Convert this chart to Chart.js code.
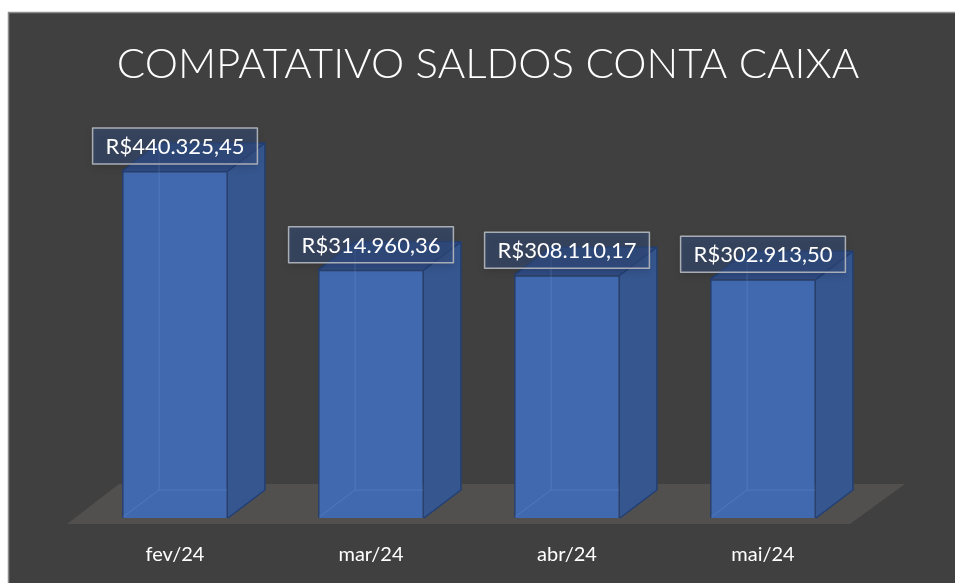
<!DOCTYPE html>
<html>
<head>
<meta charset="utf-8">
<script src="https://cdn.jsdelivr.net/npm/chart.js@4.4.1/dist/chart.umd.min.js"></script>
<style>
  html, body { margin: 0; padding: 0; background: #ffffff; }
  #wrap { width: 955px; height: 583px; }
</style>
</head>
<body>
<div id="wrap"><canvas id="saldoChart"></canvas></div>
<script>
// dados
const titulo = 'COMPATATIVO SALDOS CONTA CAIXA';
const meses = ['fev/24', 'mar/24', 'abr/24', 'mai/24'];
const saldos = [440325.45, 314960.36, 308110.17, 302913.50];
const rotulos = ['R$440.325,45', 'R$314.960,36', 'R$308.110,17', 'R$302.913,50'];

const depthX = 37;   // profundidade 3D
const depthY = 28;

// fundo do painel + titulo
const panelBg = {
    id: 'panelBg',
    beforeDraw(chart) {
        const ctx = chart.ctx;
        ctx.save();
        ctx.fillStyle = '#ffffff';
        ctx.fillRect(0, 0, chart.width, chart.height);
        ctx.fillStyle = '#404040';
        ctx.fillRect(8, 12, chart.width - 8, chart.height - 12);
        ctx.strokeStyle = '#8c8c8c';
        ctx.lineWidth = 1.5;
        ctx.beginPath();
        ctx.moveTo(8.5, chart.height);
        ctx.lineTo(8.5, 12.5);
        ctx.lineTo(chart.width, 12.5);
        ctx.stroke();
        // titulo
        ctx.fillStyle = '#ffffff';
        ctx.font = '300 42px Lato, "Open Sans", sans-serif';
        ctx.textAlign = 'center';
        ctx.textBaseline = 'alphabetic';
        ctx.fillText(titulo, 488, 78);
        ctx.restore();
    }
};

// piso + faces 3D + rotulos
const bars3d = {
    id: 'bars3d',
    beforeDatasetsDraw(chart) {
        const ctx = chart.ctx;
        const area = chart.chartArea;
        const yf = area.bottom + 6;
        ctx.save();
        ctx.fillStyle = '#524f4f';
        ctx.beginPath();
        ctx.moveTo(area.left - 10, yf);
        ctx.lineTo(area.right - 11, yf);
        ctx.lineTo(area.right + 44, yf - 40);
        ctx.lineTo(area.left + 42, yf - 40);
        ctx.closePath();
        ctx.fill();
        ctx.restore();
    },
    afterDatasetsDraw(chart) {
        const ctx = chart.ctx;
        const meta = chart.getDatasetMeta(0);
        ctx.save();
        meta.data.forEach(function(bar, i) {
            const w = bar.width;
            const l = bar.x - w / 2, r = bar.x + w / 2;
            const t = bar.y, b = bar.base;
            ctx.lineJoin = 'round';
            // lateral
            ctx.fillStyle = '#36568f';
            ctx.beginPath();
            ctx.moveTo(r, t);
            ctx.lineTo(r + depthX, t - depthY);
            ctx.lineTo(r + depthX, b - depthY);
            ctx.lineTo(r, b);
            ctx.closePath();
            ctx.fill();
            // topo
            ctx.fillStyle = '#2f4c83';
            ctx.beginPath();
            ctx.moveTo(l, t);
            ctx.lineTo(l + depthX, t - depthY);
            ctx.lineTo(r + depthX, t - depthY);
            ctx.lineTo(r, t);
            ctx.closePath();
            ctx.fill();
            // arestas
            ctx.strokeStyle = '#223f74';
            ctx.lineWidth = 1.5;
            ctx.beginPath();
            ctx.moveTo(l, t);
            ctx.lineTo(l + depthX, t - depthY);
            ctx.lineTo(r + depthX, t - depthY);
            ctx.lineTo(r + depthX, b - depthY);
            ctx.lineTo(r, b);
            ctx.moveTo(r + depthX, t - depthY);
            ctx.lineTo(r, t);
            ctx.stroke();
            // arestas de tras (transparencia)
            ctx.strokeStyle = 'rgba(110,150,215,0.35)';
            ctx.lineWidth = 1;
            ctx.beginPath();
            ctx.moveTo(l + depthX, t - depthY + 2);
            ctx.lineTo(l + depthX, b - depthY);
            ctx.lineTo(r - 1, b - depthY);
            ctx.moveTo(l + depthX, b - depthY);
            ctx.lineTo(l + 1, b - 1);
            ctx.stroke();
        });

        // rotulos
        ctx.font = '22px Lato, "Open Sans", sans-serif';
        ctx.textAlign = 'center';
        ctx.textBaseline = 'middle';
        meta.data.forEach(function(bar, i) {
            const txt = rotulos[i];
            const tw = ctx.measureText(txt).width;
            const bw = tw + 26, bh = 36;
            const cx = bar.x, cy = bar.y - 25;
            ctx.save();
            ctx.shadowColor = 'rgba(0,0,0,0.3)';
            ctx.shadowBlur = 8;
            ctx.shadowOffsetY = 3;
            ctx.fillStyle = 'rgba(52,78,128,0.5)';
            ctx.fillRect(cx - bw / 2, cy - bh / 2, bw, bh);
            ctx.restore();
            ctx.strokeStyle = '#a9adb5';
            ctx.lineWidth = 1.5;
            ctx.strokeRect(cx - bw / 2, cy - bh / 2, bw, bh);
            ctx.fillStyle = '#ffffff';
            ctx.fillText(txt, cx, cy + 1);
        });
        ctx.restore();
    }
};

const ctx = document.getElementById('saldoChart').getContext('2d');
new Chart(ctx, {
    type: 'bar',
    data: {
        labels: meses,
        datasets: [{
            data: saldos,
            backgroundColor: '#4169b0',
            borderColor: '#223f74',
            borderWidth: 1.5,
            categoryPercentage: 1,
            barPercentage: 0.54,
        }]
    },
    options: {
        responsive: true,
        maintainAspectRatio: false,
        animation: false,
        layout: {
            padding: { top: 124, left: 77, right: 94, bottom: 0 }
        },
        plugins: {
            legend: { display: false },
            tooltip: { enabled: false },
            title: { display: false }
        },
        scales: {
            x: {
                grid: { display: false, drawTicks: false },
                border: { display: false },
                afterFit(scale) { scale.height = 65; },
                ticks: {
                    color: '#ffffff',
                    padding: 25,
                    font: { family: 'Lato, "Open Sans", sans-serif', size: 20 }
                }
            },
            y: {
                display: false,
                min: 0,
                max: 500000
            }
        }
    },
    plugins: [panelBg, bars3d]
});
</script>
</body>
</html>
